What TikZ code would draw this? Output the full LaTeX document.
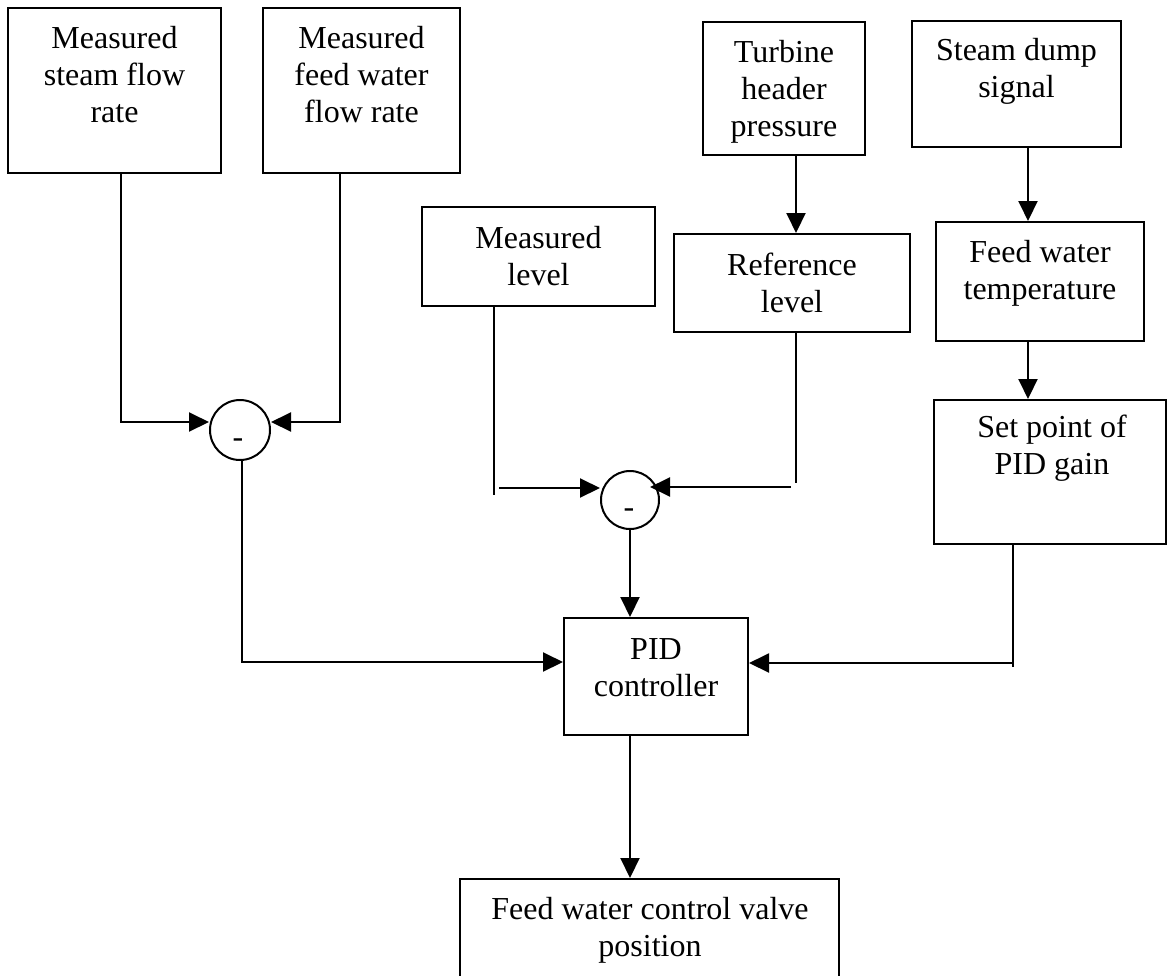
\documentclass[tikz,border=0pt]{standalone}
\usepackage{fontspec}
\setmainfont{Liberation Serif}
\usetikzlibrary{arrows.meta}
\begin{document}
\begin{tikzpicture}[x=1pt,y=-1pt,
  box/.style={draw, line width=2pt, rectangle, inner sep=0pt},
  txt/.style={anchor=base, align=flush center, inner sep=0pt, text width=#1, font=\fontsize{32}{37}\selectfont},
  txt/.default=200pt,
  sumc/.style={draw, circle, line width=2pt, minimum size=58pt, inner sep=0pt},
  ln/.style={line width=2pt},
  arr/.style={line width=2pt, -{Triangle[length=20pt,width=19pt]}},
]
\useasboundingbox (0,0) rectangle (1169,975);
\clip (0,0) rectangle (1169,975);
% boxes
\node[box, minimum width=213pt, minimum height=165pt] (b1) at (114.5,90.5) {};
\node[txt=200pt] (t1) at (114.5,48) {Measured\\steam flow\\rate};
\node[box, minimum width=197pt, minimum height=165pt] (b2) at (361.5,90.5) {};
\node[txt=190pt] (t2) at (361.5,48) {Measured\\feed water\\flow rate};
\node[box, minimum width=162pt, minimum height=133pt] (turb) at (784,88.5) {};
\node[txt=160pt] (t3) at (784,62) {Turbine\\header\\pressure};
\node[box, minimum width=209pt, minimum height=126pt] (dump) at (1016.5,84) {};
\node[txt=200pt] (t4) at (1016.5,60) {Steam dump\\signal};
\node[box, minimum width=233pt, minimum height=99pt] (meas) at (538.5,256.5) {};
\node[txt=220pt] (t5) at (538.5,248) {Measured\\level};
\node[box, minimum width=236pt, minimum height=98pt] (ref) at (792,283) {};
\node[txt=220pt] (t6) at (792,275) {Reference\\level};
\node[box, minimum width=208pt, minimum height=119pt] (temp) at (1040,281.5) {};
\node[txt=200pt] (t7) at (1040,262) {Feed water\\temperature};
\node[box, minimum width=232pt, minimum height=144pt] (setp) at (1050,472) {};
\node[txt=220pt] (t8) at (1052,437) {Set point of\\PID gain};
\node[box, minimum width=184pt, minimum height=117pt] (pid) at (656,676.5) {};
\node[txt=180pt] (t9) at (656,659) {PID\\controller};
\node[box, minimum width=379pt, minimum height=116pt] (valve) at (649.5,937) {};
\node[txt=370pt] (t10) at (650,919) {Feed water control valve\\position};
% summing junctions
\node[sumc, minimum size=60pt] (s1) at (240,430) {};
\node[txt=20pt] (m1) at (238,447) {-};
\node[sumc] (s2) at (630,500) {};
\node[txt=20pt] (m2) at (629,517) {-};
% helper coordinates
\coordinate (c1) at (121,422);
\coordinate (c2) at (340,422);
\coordinate (ml) at (494,495);
\coordinate (mh) at (499,488);
\coordinate (rl) at (796,483);
\coordinate (rh) at (791,487);
\coordinate (dx) at (1028,300);
\coordinate (sl) at (1013,667);
\coordinate (sh) at (1013,663);
\coordinate (lc) at (242,662);
% connectors
\draw[arr] (b1.south -| c1) -- (c1) -- (c1 -| s1.west);
\draw[arr] (b2.south -| c2) -- (c2) -- (c2 -| s1.east);
\draw[arr] (s1.south -| lc) -- (lc) -- (lc -| pid.west);
\draw[ln] (meas.south -| ml) -- (ml);
\draw[arr] (mh) -- (mh -| s2.west);
\draw[arr] (turb.south -| rl) -- (ref.north -| rl);
\draw[ln] (ref.south -| rl) -- (rl);
\draw[arr, shorten >=-10pt] (rh) -- (rh -| s2.east);
\draw[arr] (s2.south) -- (s2.south |- pid.north);
\draw[arr] (dump.south -| dx) -- (temp.north -| dx);
\draw[arr] (temp.south -| dx) -- (setp.north -| dx);
\draw[ln] (setp.south -| sl) -- (sl);
\draw[arr] (sh) -- (sh -| pid.east);
\draw[arr] (pid.south -| s2) -- (valve.north -| s2);
\end{tikzpicture}
\end{document}
